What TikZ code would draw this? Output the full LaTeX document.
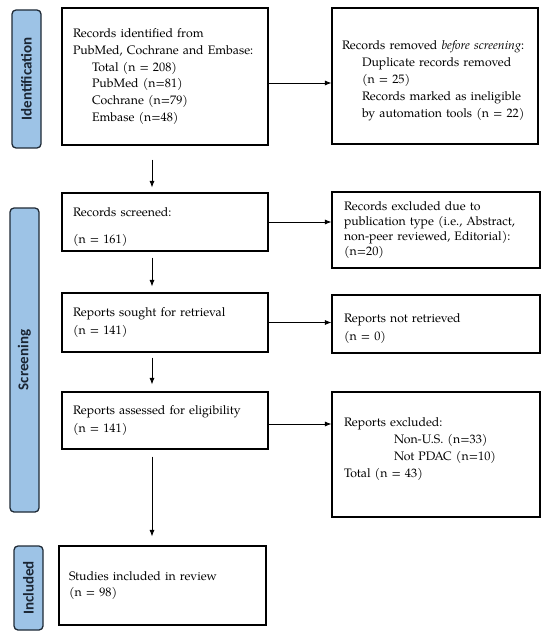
\documentclass[tikz,border=0pt]{standalone}
\usepackage{fontspec}
\setmainfont{texgyrepagella}[Extension=.otf, UprightFont=*-regular, BoldFont=*-bold, ItalicFont=*-italic, BoldItalicFont=*-bolditalic]
\newfontfamily\sidefont{Carlito}
\usetikzlibrary{arrows.meta}
\definecolor{sidefill}{HTML}{9DC3E6}
\definecolor{sideline}{HTML}{1F2A36}
\definecolor{sidetext}{HTML}{1A2533}
\tikzset{
  box/.style={draw=black, line width=1.1pt, align=left, inner xsep=11pt, inner ysep=0pt,
    font=\fontsize{12.3}{16.7}\selectfont},
  side/.style={draw=sideline, fill=sidefill, rounded corners=4pt, line width=1.3pt,
    rotate=90, minimum height=29pt, inner sep=0pt, text=sidetext,
    font=\sidefont\bfseries\fontsize{15}{17}\selectfont},
  arr/.style={-{Latex[length=6.5pt,width=5pt]}, line width=0.8pt}
}
\begin{document}
\begin{tikzpicture}[x=1pt,y=-1pt]
\useasboundingbox (0,0) rectangle (550,639);
% side labels
\node[side, minimum width=138pt] (sid) at (26.5,79) {Identification};
\node[side, minimum width=304pt] (sscr) at (24.5,360) {Screening};
\node[side, minimum width=84pt] (sinc) at (28.5,588) {Included};
% left column
\node[box, text width=184pt, minimum height=137pt] (b1) at (165,76.5) {Records identified from\\PubMed, Cochrane and Embase:\\\hspace*{19pt}Total (n = 208)\\\hspace*{19pt}PubMed (n=81)\\\hspace*{19pt}Cochrane (n=79)\\\hspace*{19pt}Embase (n=48)};
\node[box, text width=184pt, minimum height=58pt] (scr) at (165,222) {\rule{0pt}{19pt}Records screened:\\[11pt](n = 161)};
\node[box, text width=184pt, minimum height=59pt] (sou) at (165,322.5) {Reports sought for retrieval\\[2pt](n = 141)};
\node[box, text width=184pt, minimum height=57pt] (ass) at (165,420.5) {Reports assessed for eligibility\\[1pt](n = 141)};
\node[box, text width=187pt, inner xsep=10pt, minimum height=79pt] (inc) at (162.5,585.5) {Studies included in review\\(n = 98)};
% right column
\node[box, text width=186pt, inner xsep=10pt, minimum height=136pt, font=\fontsize{12.3}{17}\selectfont] (b2) at (435,76) {\rule{0pt}{19pt}Records removed \emph{before screening}:\\\hspace*{20pt}Duplicate records removed\\\hspace*{20pt}(n = 25)\\\hspace*{20pt}Records marked as ineligible\\\hspace*{20pt}by automation tools (n = 22)};
\node[box, text width=184pt, inner xsep=12pt, minimum height=76pt, font=\fontsize{12.3}{15}\selectfont] (ex1) at (436,230) {Records excluded due to\\publication type (i.e., Abstract,\\non-peer reviewed, Editorial):\\(n=20)};
\node[box, text width=184pt, inner xsep=12pt, minimum height=58pt, font=\fontsize{12.3}{18}\selectfont] (nr) at (436,324) {\rule{0pt}{17pt}Reports not retrieved\\(n = 0)};
\node[box, text width=184pt, inner xsep=12pt, minimum height=125pt, font=\fontsize{12.3}{17}\selectfont] (ex2) at (436,454.5) {\rule{0pt}{12pt}Reports excluded:\\\hspace*{50pt}Non-U.S. (n=33)\\\hspace*{50pt}Not PDAC (n=10)\\Total (n = 43)\\\mbox{}};
% connectors
\coordinate (spine) at (152,0);
\draw[arr, shorten <=14pt, shorten >=5pt] (b1.south -| spine) -- (scr.north -| spine);
\draw[arr, shorten <=6pt, shorten >=6pt] (scr.south -| spine) -- (sou.north -| spine);
\draw[arr, shorten <=5pt, shorten >=7pt] (sou.south -| spine) -- (ass.north -| spine);
\draw[arr, shorten <=7pt, shorten >=9pt] (ass.south -| spine) -- (inc.north -| spine);
\coordinate (h1) at ([yshift=-6.5pt]b1.east);
\draw[arr] (h1) -- (h1 -| b2.west);
\draw[arr] (scr.east) -- (scr.east -| ex1.west);
\draw[arr] (sou.east) -- (sou.east -| nr.west);
\coordinate (h4) at ([yshift=-3.5pt]ass.east);
\draw[arr] (h4) -- (h4 -| ex2.west);
\end{tikzpicture}
\end{document}
